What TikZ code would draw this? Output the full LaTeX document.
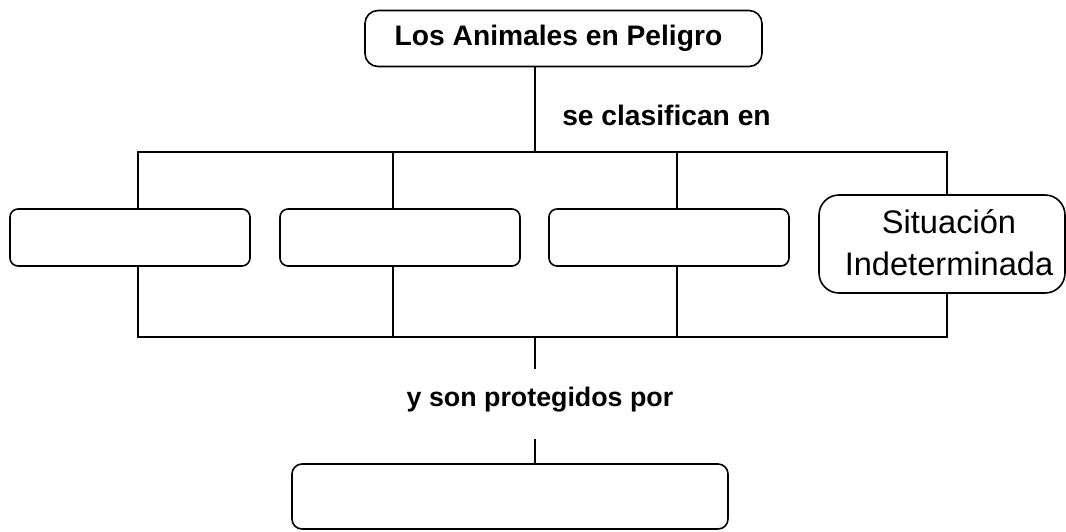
\documentclass[tikz,border=0pt]{standalone}
\usepackage{fontspec}
\setmainfont{Liberation Sans}
\begin{document}
\begin{tikzpicture}[x=1pt,y=-1pt,
  line/.style={draw=black,line width=1.6pt},
  box/.style={draw=black,line width=1.6pt,fill=white,rectangle,inner sep=0pt,anchor=center},
  lbl/.style={inner sep=0pt,anchor=center,font=\bfseries\fontsize{28.2}{33}\selectfont}]
\useasboundingbox (0,0) rectangle (1066,531);
% frame coordinates
\coordinate (ftop) at (535,152);
\coordinate (fA) at (138,152);
\coordinate (fB) at (393,152);
\coordinate (fC) at (677,152);
\coordinate (fD) at (947,152);
\coordinate (gA) at (138,337);
\coordinate (gB) at (393,337);
\coordinate (gC) at (677,337);
\coordinate (gD) at (947,337);
\coordinate (gmid) at (535,337);
\coordinate (e1) at (535,369);
\coordinate (e2) at (535,439);
% nodes
\node[box,rounded corners=13pt,minimum width=397pt,minimum height=56pt] (top) at (563.5,38.5) {};
\node[lbl] (toptext) at (558.5,38) {Los Animales en Peligro};
\node[lbl] (lab1) at (666.5,115) {se clasifican en};
\node[lbl,font=\bfseries\fontsize{26.8}{32}\selectfont] (lab2) at (540,400) {y son protegidos por};
% connectors
\draw[line] (top.south -| ftop) -- (ftop);
\draw[line] (fA) -- (fD) -- (gD) -- (gA) -- cycle;
\draw[line] (fB) -- (gB);
\draw[line] (fC) -- (gC);
\draw[line] (gmid) -- (e1);
% boxes
\node[box,rounded corners=8pt,minimum width=240pt,minimum height=57pt] (b1) at (130,237.5) {};
\node[box,rounded corners=8pt,minimum width=240pt,minimum height=57pt] (b2) at (400,237.5) {};
\node[box,rounded corners=8pt,minimum width=240pt,minimum height=57pt] (b3) at (669,237.5) {};
\node[box,rounded corners=20pt,minimum width=246pt,minimum height=98pt] (b4) at (942,244) {};
\node[inner sep=0pt,anchor=center,align=center,
  font=\fontsize{32.6}{42}\selectfont] (b4t) at (949,243) {Situación\\Indeterminada};
\node[box,rounded corners=10pt,minimum width=436pt,minimum height=65pt] (bot) at (510,496.5) {};
\draw[line] (e2) -- (bot.north -| e2);
\end{tikzpicture}
\end{document}
